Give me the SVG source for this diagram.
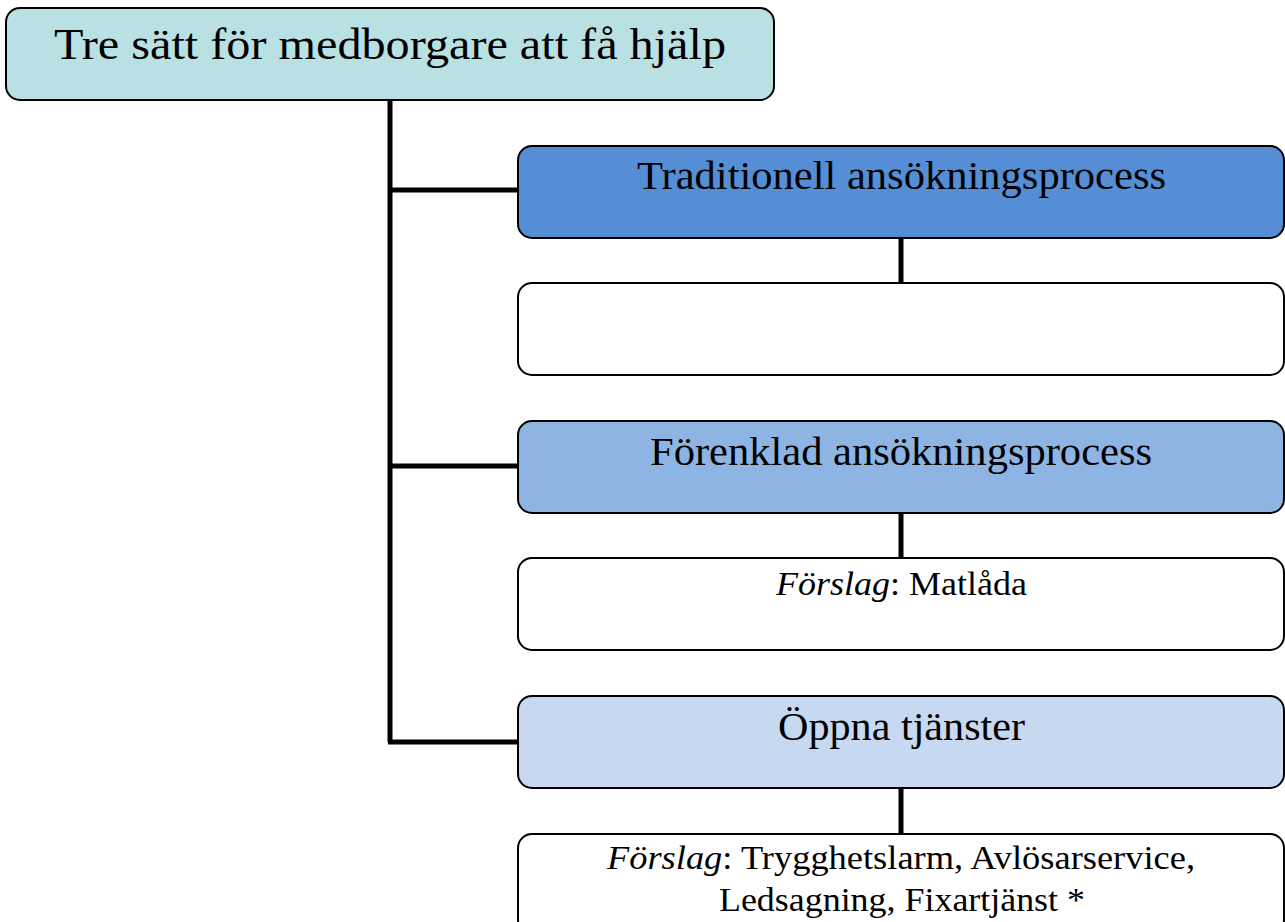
<svg xmlns="http://www.w3.org/2000/svg" width="1285" height="922" viewBox="0 0 1285 922">
<style>
.box{stroke:#000;stroke-width:2}
.t{font-family:"Liberation Serif","Times New Roman",serif;fill:#000}
.conn{stroke:#000;stroke-width:5;fill:none}
</style>
<rect width="1285" height="922" fill="#fff"/>
<g id="connectors">
<path class="conn" d="M390 100 V742 M388 190 H518 M388 466 H518 M388 742 H518 M901 238 V283 M901 513 V558 M901 788 V834"/>
</g>
<g id="root"><rect class="box" x="6" y="8" width="768" height="92" rx="14" fill="#B9E0E3"/><text class="t" x="54" y="59" font-size="45" textLength="672" lengthAdjust="spacingAndGlyphs">Tre sätt för medborgare att få hjälp</text></g>
<g id="trad"><rect class="box" x="518" y="146" width="766" height="92" rx="14" fill="#558ED5"/><text class="t" x="637" y="189" font-size="40" textLength="529" lengthAdjust="spacingAndGlyphs">Traditionell ansökningsprocess</text></g>
<g id="trad-sub"><rect class="box" x="518" y="283" width="766" height="92" rx="14" fill="#fff"/></g>
<g id="forenklad"><rect class="box" x="518" y="421" width="766" height="92" rx="14" fill="#8EB4E3"/><text class="t" x="650" y="465" font-size="40" textLength="502" lengthAdjust="spacingAndGlyphs">Förenklad ansökningsprocess</text></g>
<g id="forenklad-sub"><rect class="box" x="518" y="558" width="766" height="92" rx="14" fill="#fff"/><text class="t" x="776" y="595" font-size="34" textLength="251" lengthAdjust="spacingAndGlyphs"><tspan font-style="italic">Förslag</tspan>: Matlåda</text></g>
<g id="oppna"><rect class="box" x="518" y="696" width="766" height="92" rx="14" fill="#C6D9F1"/><text class="t" x="778" y="740" font-size="40" textLength="247" lengthAdjust="spacingAndGlyphs">Öppna tjänster</text></g>
<g id="oppna-sub"><rect class="box" x="518" y="834" width="766" height="100" rx="14" fill="#fff"/><text class="t" x="607" y="869" font-size="34" textLength="588" lengthAdjust="spacingAndGlyphs"><tspan font-style="italic">Förslag</tspan>: Trygghetslarm, Avlösarservice,</text><text class="t" x="719" y="911" font-size="34" textLength="366" lengthAdjust="spacingAndGlyphs">Ledsagning, Fixartjänst *</text></g>
</svg>
